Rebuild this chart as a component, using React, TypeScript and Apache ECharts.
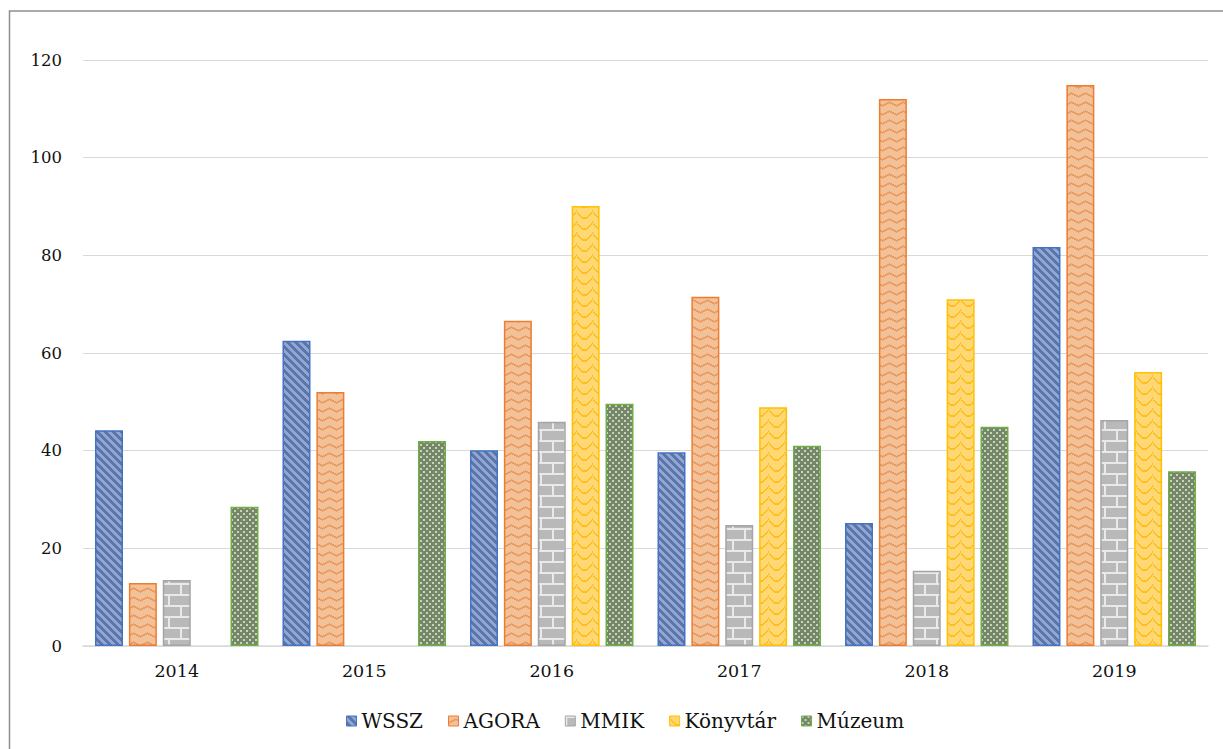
import React, { useEffect, useRef } from "react";
import * as echarts from "echarts";

const years = ["2014", "2015", "2016", "2017", "2018", "2019"];
const seriesNames = ["WSSZ", "AGORA", "MMIK", "Könyvtár", "Múzeum"];
const wssz = [44.2, 62.5, 40.1, 39.7, 25.2, 81.7];
const agora = [12.9, 52, 66.6, 71.5, 112, 114.9];
const mmik = [13.5, null, 45.9, 24.8, 15.4, 46.3];
const konyvtar = [null, null, 90.1, 48.9, 71, 56.1];
const muzeum = [28.5, 42, 49.6, 41, 44.9, 35.8];
const borderColors = ["#4472C4", "#ED7D31", "#A5A5A5", "#FFC000", "#70AD47"];

function makeCanvas(w: number, h: number, draw: (ctx: CanvasRenderingContext2D) => void) {
  const c = document.createElement("canvas");
  c.width = w;
  c.height = h;
  const ctx = c.getContext("2d") as CanvasRenderingContext2D;
  draw(ctx);
  return c;
}

function makePatterns() {
  const stripes = makeCanvas(8, 8, (ctx) => {
    ctx.fillStyle = "#93a6d0";
    ctx.fillRect(0, 0, 8, 8);
    ctx.fillStyle = "#5a75ab";
    for (let y = 0; y < 8; y++)
      for (let x = 0; x < 8; x++)
        if ((x - y + 16) % 8 < 4) ctx.fillRect(x, y, 1, 1);
  });
  const zigzag = makeCanvas(14, 9, (ctx) => {
    ctx.fillStyle = "#f3c198";
    ctx.fillRect(0, 0, 14, 9);
    ctx.fillStyle = "#eb9c62";
    for (let x = 0; x < 14; x++) {
      const yy = Math.round((Math.abs(x - 7) * 4) / 7);
      ctx.fillRect(x, yy + 2, 1, 2);
    }
  });
  const brick = makeCanvas(24, 22, (ctx) => {
    ctx.fillStyle = "#b9b9b9";
    ctx.fillRect(0, 0, 24, 22);
    ctx.fillStyle = "#e9e9e9";
    ctx.fillRect(0, 0, 24, 2);
    ctx.fillRect(0, 11, 24, 2);
    ctx.fillRect(0, 0, 2, 11);
    ctx.fillRect(12, 11, 2, 11);
  });
  const scales = makeCanvas(16, 11, (ctx) => {
    ctx.fillStyle = "#ffd775";
    ctx.fillRect(0, 0, 16, 11);
    ctx.fillStyle = "#fdc01a";
    for (let x = 0; x < 16; x++) {
      const t = (x - 8) / 8;
      const yy = Math.round(8 - 7 * t * t);
      ctx.fillRect(x, yy, 1, 2);
    }
  });
  const checker = makeCanvas(6, 6, (ctx) => {
    ctx.fillStyle = "#76866a";
    ctx.fillRect(0, 0, 6, 6);
    ctx.fillStyle = "#c6d6b5";
    ctx.fillRect(0, 0, 2, 2);
    ctx.fillRect(3, 3, 2, 2);
  });
  const list = [
    [stripes, 8, 8],
    [zigzag, 14, 9],
    [brick, 24, 22],
    [scales, 16, 11],
    [checker, 6, 6],
  ] as any[];
  return list.map(([img, w, h]) => ({
    image: img,
    repeat: "repeat",
    imageWidth: w,
    imageHeight: h,
  }));
}

export default function App() {
  const ref = useRef<HTMLDivElement>(null);
  useEffect(() => {
    if (!ref.current) return;
    const chart = echarts.init(ref.current, null, { renderer: "svg" });
    const patterns = makePatterns();
    const dataSets = [wssz, agora, mmik, konyvtar, muzeum];
    const font = "DejaVu Serif";
    chart.setOption({
      animation: false,
      backgroundColor: "#ffffff",
      textStyle: { fontFamily: font },
      graphic: [
        {
          type: "rect",
          shape: { x: 9.5, y: 11, width: 1240, height: 780 },
          style: { fill: "none", stroke: "#8e8e8e", lineWidth: 1.5 },
          silent: true,
        },
      ],
      grid: { left: 83, right: 15, top: 60, bottom: 103, containLabel: false },
      legend: {
        top: 706,
        left: 341,
        itemWidth: 10,
        itemHeight: 10,
        itemGap: 25,
        icon: "rect",
        textStyle: { fontFamily: font, fontSize: 20, color: "#111" },
        data: seriesNames.map((n, i) => ({
          name: n,
          itemStyle: { color: patterns[i], borderColor: borderColors[i], borderWidth: 1 },
        })),
      },
      xAxis: {
        type: "category",
        data: years,
        axisLine: { lineStyle: { color: "#d9d9d9", width: 1.5 } },
        axisTick: { show: false },
        axisLabel: { fontFamily: font, fontSize: 17.5, color: "#111", margin: 16 },
      },
      yAxis: {
        type: "value",
        min: 0,
        max: 120,
        interval: 20,
        axisLine: { show: false },
        axisTick: { show: false },
        splitLine: { lineStyle: { color: "#d9d9d9", width: 1.2 } },
        axisLabel: { fontFamily: font, fontSize: 16.5, color: "#111", margin: 21 },
      },
      series: seriesNames.map((n, i) => ({
        name: n,
        type: "bar",
        data: dataSets[i],
        barWidth: 28,
        barGap: "21%",
        itemStyle: {
          color: patterns[i],
          borderColor: borderColors[i],
          borderWidth: 1.5,
        },
      })),
    });
    return () => chart.dispose();
  }, []);
  return (
    <div
      ref={ref}
      style={{ position: "absolute", left: 0, top: 0, width: 1223, height: 749 }}
    />
  );
}
